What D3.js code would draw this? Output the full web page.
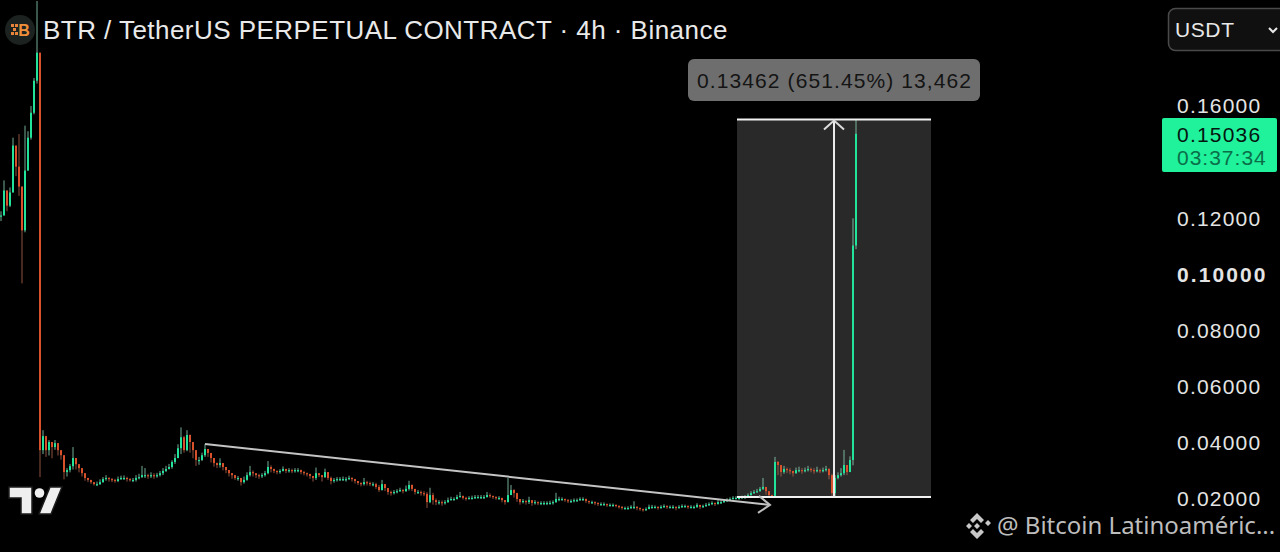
<!DOCTYPE html>
<html>
<head>
<meta charset="utf-8">
<script src="https://cdn.jsdelivr.net/npm/d3@7"></script>
<style>
  html, body { margin: 0; padding: 0; background: #000; overflow: hidden; }
  text { font-family: "Liberation Sans", Arial, sans-serif; }
</style>
</head>
<body>
<svg id="chart" width="1280" height="552"></svg>
<script>
const title = "BTR / TetherUS PERPETUAL CONTRACT · 4h · Binance";
const tickValues = [0.02, 0.04, 0.06, 0.08, 0.10, 0.12, 0.16];
const lastPrice = "0.15036";
const countdown = "03:37:34";
const measureLabel = "0.13462 (651.45%) 13,462";
const watermark = "@ Bitcoin Latinoaméric...";

// candle closes, one row = 10 candles, open is the previous close
const closes = [
  .1210,.1299,.1245,.1292,.1459,.1384,.1313,.1157,.1370,.1487,
  .1576,.1690,.1790,.0374,.0424,.0374,.0403,.0385,.0399,.0374,
  .0356,.0296,.0303,.0317,.0346,.0324,.0310,.0292,.0275,.0268,
  .0260,.0253,.0253,.0260,.0271,.0275,.0271,.0268,.0264,.0271,
  .0275,.0275,.0271,.0268,.0268,.0275,.0278,.0285,.0285,.0282,
  .0285,.0282,.0285,.0292,.0300,.0307,.0314,.0332,.0346,.0381,
  .0420,.0374,.0428,.0403,.0374,.0339,.0339,.0356,.0378,.0364,
  .0346,.0328,.0321,.0328,.0314,.0303,.0292,.0285,.0275,.0275,
  .0260,.0268,.0285,.0296,.0292,.0285,.0282,.0285,.0292,.0314,
  .0307,.0300,.0296,.0300,.0307,.0300,.0303,.0300,.0303,.0303,
  .0296,.0292,.0289,.0282,.0275,.0292,.0285,.0278,.0296,.0275,
  .0264,.0268,.0271,.0271,.0271,.0271,.0275,.0271,.0264,.0257,
  .0253,.0260,.0257,.0253,.0253,.0243,.0232,.0253,.0239,.0225,
  .0221,.0225,.0228,.0232,.0228,.0236,.0250,.0236,.0225,.0225,
  .0221,.0218,.0189,.0214,.0196,.0189,.0189,.0186,.0189,.0196,
  .0200,.0200,.0207,.0211,.0204,.0200,.0204,.0204,.0207,.0207,
  .0207,.0207,.0214,.0211,.0207,.0204,.0204,.0196,.0189,.0214,
  .0232,.0221,.0200,.0189,.0193,.0189,.0196,.0186,.0189,.0186,
  .0186,.0186,.0186,.0186,.0189,.0200,.0200,.0200,.0196,.0193,
  .0193,.0196,.0196,.0200,.0200,.0193,.0189,.0189,.0186,.0182,
  .0182,.0182,.0179,.0179,.0179,.0175,.0172,.0168,.0168,.0168,
  .0172,.0172,.0168,.0164,.0161,.0164,.0172,.0172,.0172,.0168,
  .0172,.0175,.0172,.0172,.0172,.0168,.0172,.0175,.0175,.0172,
  .0172,.0172,.0179,.0172,.0175,.0179,.0182,.0186,.0182,.0189,
  .0189,.0193,.0196,.0200,.0204,.0204,.0204,.0207,.0207,.0214,
  .0221,.0225,.0228,.0236,.0243,.0228,.0214,.0211,.0332,.0321,
  .0296,.0307,.0303,.0300,.0292,.0303,.0303,.0300,.0303,.0307,
  .0303,.0300,.0303,.0300,.0303,.0307,.0285,.0221,.0275,.0285,
  .0292,.0321,.0296,.0339,.1103,.1501
];
const highs = [
  .1225,.1335,.1299,.1310,.1487,.1459,.1500,.1313,.1530,.1510,
  .1600,.1700,.1974,.1733,.0445,.0425,.0410,.0400,.0410,.0385,
  .0365,.0335,.0310,.0325,.0385,.0332,.0320,.0300,.0280,.0275,
  .0268,.0260,.0262,.0270,.0278,.0285,.0278,.0275,.0272,.0280,
  .0283,.0284,.0279,.0275,.0275,.0285,.0290,.0318,.0310,.0290,
  .0295,.0292,.0293,.0300,.0310,.0318,.0325,.0338,.0360,.0395,
  .0455,.0425,.0445,.0430,.0385,.0350,.0350,.0365,.0395,.0375,
  .0355,.0340,.0330,.0345,.0322,.0312,.0300,.0292,.0282,.0282,
  .0268,.0280,.0295,.0318,.0302,.0292,.0290,.0292,.0300,.0335,
  .0320,.0308,.0302,.0306,.0316,.0308,.0310,.0308,.0310,.0310,
  .0305,.0300,.0294,.0290,.0282,.0312,.0292,.0284,.0308,.0296,
  .0280,.0275,.0278,.0278,.0280,.0278,.0283,.0278,.0272,.0264,
  .0260,.0275,.0265,.0262,.0260,.0258,.0250,.0268,.0252,.0235,
  .0230,.0232,.0235,.0240,.0236,.0248,.0265,.0252,.0232,.0232,
  .0230,.0228,.0225,.0240,.0222,.0202,.0196,.0195,.0196,.0205,
  .0208,.0206,.0215,.0225,.0212,.0208,.0210,.0212,.0214,.0214,
  .0214,.0214,.0225,.0220,.0212,.0210,.0210,.0204,.0196,.0276,
  .0250,.0235,.0222,.0200,.0200,.0197,.0208,.0196,.0196,.0192,
  .0192,.0192,.0192,.0194,.0195,.0222,.0208,.0206,.0202,.0200,
  .0199,.0202,.0202,.0206,.0206,.0202,.0194,.0194,.0192,.0188,
  .0188,.0188,.0184,.0184,.0184,.0181,.0178,.0175,.0173,.0174,
  .0178,.0192,.0175,.0170,.0166,.0170,.0180,.0179,.0177,.0174,
  .0178,.0181,.0178,.0177,.0178,.0174,.0178,.0181,.0180,.0178,
  .0178,.0177,.0185,.0178,.0180,.0186,.0188,.0192,.0188,.0196,
  .0196,.0200,.0203,.0206,.0210,.0210,.0208,.0212,.0214,.0220,
  .0228,.0232,.0236,.0243,.0275,.0240,.0228,.0215,.0350,.0335,
  .0310,.0318,.0312,.0310,.0300,.0312,.0315,.0310,.0312,.0318,
  .0312,.0310,.0315,.0308,.0312,.0318,.0310,.0290,.0285,.0295,
  .0310,.0375,.0320,.0352,.1200,.1550
];
const lows = [
  .1190,.1210,.1225,.1240,.1300,.1350,.1280,.0968,.1150,.1370,
  .1480,.1570,.1680,.0278,.0360,.0350,.0355,.0345,.0375,.0355,
  .0340,.0270,.0280,.0295,.0305,.0305,.0295,.0280,.0265,.0260,
  .0254,.0248,.0246,.0250,.0258,.0265,.0262,.0260,.0258,.0260,
  .0268,.0268,.0262,.0262,.0260,.0262,.0270,.0275,.0275,.0272,
  .0275,.0272,.0276,.0280,.0285,.0296,.0305,.0308,.0325,.0345,
  .0360,.0365,.0370,.0365,.0345,.0318,.0322,.0335,.0350,.0350,
  .0330,.0315,.0310,.0312,.0302,.0292,.0280,.0272,.0268,.0265,
  .0248,.0255,.0265,.0280,.0280,.0275,.0272,.0275,.0280,.0288,
  .0295,.0292,.0288,.0290,.0298,.0292,.0294,.0292,.0294,.0295,
  .0288,.0284,.0280,.0272,.0262,.0268,.0278,.0262,.0275,.0268,
  .0252,.0258,.0262,.0264,.0264,.0262,.0268,.0262,.0255,.0250,
  .0245,.0248,.0248,.0246,.0245,.0236,.0225,.0230,.0228,.0215,
  .0212,.0216,.0220,.0225,.0220,.0225,.0230,.0228,.0216,.0218,
  .0212,.0210,.0168,.0185,.0180,.0178,.0180,.0176,.0180,.0186,
  .0194,.0194,.0198,.0205,.0198,.0194,.0198,.0198,.0200,.0202,
  .0200,.0200,.0205,.0204,.0200,.0197,.0197,.0188,.0180,.0188,
  .0215,.0205,.0190,.0180,.0184,.0180,.0182,.0176,.0180,.0178,
  .0178,.0178,.0178,.0180,.0180,.0186,.0192,.0194,.0190,.0186,
  .0186,.0188,.0190,.0193,.0193,.0186,.0182,.0182,.0178,.0175,
  .0176,.0176,.0172,.0173,.0172,.0170,.0166,.0162,.0162,.0162,
  .0164,.0164,.0160,.0158,.0155,.0158,.0164,.0165,.0166,.0162,
  .0165,.0168,.0165,.0166,.0165,.0160,.0165,.0168,.0169,.0165,
  .0166,.0165,.0168,.0164,.0168,.0172,.0175,.0178,.0175,.0180,
  .0182,.0186,.0190,.0194,.0198,.0198,.0198,.0200,.0201,.0206,
  .0212,.0218,.0222,.0226,.0232,.0215,.0205,.0205,.0205,.0285,
  .0280,.0290,.0292,.0288,.0280,.0290,.0295,.0290,.0295,.0298,
  .0295,.0290,.0295,.0292,.0295,.0298,.0270,.0207,.0205,.0270,
  .0280,.0285,.0285,.0310,.0320,.1090
];

// drawings, in candle index and price
const measureIdx = [245.33, 310];
const measurePrice = [0.0207, 0.1552];
const measureArrowIdx = 277.67;
const trendIdx = [68, 256.33];
const trendPrice = [0.0396, 0.0179];

const green = "#22e39a", red = "#d9512b";

const svg = d3.select("#chart");
svg.append("rect").attr("width", 1280).attr("height", 552).attr("fill", "#000");

const x = d3.scaleLinear().domain([0, closes.length - 1]).range([1, 856]);
const y = d3.scaleLinear().domain([0.02, 0.16]).range([499, 106]);

const candles = closes.map((c, i) => {
  const o = i == 0 ? c : closes[i - 1];
  return { i: i, o: o, c: c, h: Math.max(highs[i], o, c), l: Math.min(lows[i], o, c) };
});

// measure box
svg.append("rect")
  .attr("x", x(measureIdx[0])).attr("width", x(measureIdx[1]) - x(measureIdx[0]))
  .attr("y", y(measurePrice[1])).attr("height", y(measurePrice[0]) - y(measurePrice[1]))
  .attr("fill", "#292929");

// candles
const g = svg.append("g");
g.selectAll("line.wick").data(candles).join("line").attr("class", "wick")
  .attr("x1", d => x(d.i)).attr("x2", d => x(d.i))
  .attr("y1", d => y(d.h)).attr("y2", d => y(d.l))
  .attr("stroke", d => d.c >= d.o ? "#8fd9bb" : "#b5674e")
  .attr("stroke-width", 0.8);
g.selectAll("rect.body").data(candles).join("rect").attr("class", "body")
  .attr("x", d => x(d.i) - 1).attr("width", 2)
  .attr("y", d => y(Math.max(d.o, d.c)))
  .attr("height", d => Math.max(1.2, Math.abs(y(d.o) - y(d.c))))
  .attr("fill", d => d.c >= d.o ? green : red);

// white edges and arrow of the measure box
measurePrice.forEach(p => {
  svg.append("line")
    .attr("x1", x(measureIdx[0])).attr("x2", x(measureIdx[1]))
    .attr("y1", y(p)).attr("y2", y(p))
    .attr("stroke", "#f2f2f2").attr("stroke-width", 2);
});
const ax = x(measureArrowIdx), top_ = y(measurePrice[1]);
svg.append("line")
  .attr("x1", ax).attr("x2", ax)
  .attr("y1", y(measurePrice[0])).attr("y2", top_)
  .attr("stroke", "#ececec").attr("stroke-width", 2);
svg.append("path")
  .attr("d", `M${ax - 10},${top_ + 10}L${ax},${top_ + 1}L${ax + 10},${top_ + 10}`)
  .attr("fill", "none").attr("stroke", "#dcdcdc").attr("stroke-width", 2);

// trend line with arrow
const tx = x(trendIdx[1]), ty = y(trendPrice[1]);
svg.append("line")
  .attr("x1", x(trendIdx[0])).attr("y1", y(trendPrice[0]))
  .attr("x2", tx).attr("y2", ty)
  .attr("stroke", "#c4c4c4").attr("stroke-width", 2);
svg.append("path")
  .attr("d", `M${tx - 11},${ty - 9}L${tx},${ty}L${tx - 12},${ty + 8}`)
  .attr("fill", "none").attr("stroke", "#bdbdbd").attr("stroke-width", 2);

// measure label
svg.append("rect").attr("x", 688).attr("y", 59).attr("width", 292).attr("height", 42)
  .attr("rx", 6).attr("fill", "#6e6e6e");
svg.append("text").attr("x", 697).attr("y", 88).attr("fill", "#141414")
  .attr("font-size", 21).attr("letter-spacing", 1.1).text(measureLabel);

// price axis
const axis = svg.append("g").attr("transform", "translate(1177,0)")
  .call(d3.axisRight(y).tickValues(tickValues).tickFormat(d3.format(".5f")).tickSize(0).tickPadding(0));
axis.select(".domain").remove();
axis.selectAll("text")
  .attr("fill", "#e4e4e4")
  .attr("font-size", 21)
  .attr("letter-spacing", d => d == 0.10 ? 2.1 : 1.2)
  .attr("font-weight", d => d == 0.10 ? "bold" : "normal")
  .style("font-family", '"Liberation Sans", Arial, sans-serif');

// last price tag
svg.append("rect").attr("x", 1162).attr("y", 118).attr("width", 115).attr("height", 54)
  .attr("rx", 2).attr("fill", "#1ff29b");
svg.append("text").attr("x", 1177).attr("y", 142).attr("fill", "#06150f")
  .attr("font-size", 21).attr("letter-spacing", 1.2).text(lastPrice);
svg.append("text").attr("x", 1177).attr("y", 165).attr("fill", "#0b6e49")
  .attr("font-size", 21).attr("letter-spacing", 1).text(countdown);

// currency button
svg.append("rect").attr("x", 1168.5).attr("y", 8.5).attr("width", 130).attr("height", 42)
  .attr("rx", 7).attr("fill", "#101010").attr("stroke", "#4a4a4a").attr("stroke-width", 1.5);
svg.append("text").attr("x", 1175).attr("y", 37).attr("fill", "#e8e8e8")
  .attr("font-size", 21).attr("letter-spacing", 0.6).text("USDT");
svg.append("path").attr("d", "M1269,28L1273,32L1277,28")
  .attr("fill", "none").attr("stroke", "#e8e8e8").attr("stroke-width", 2);

// title and coin icon
svg.append("text").attr("x", 43).attr("y", 39).attr("fill", "#e9e9e9")
  .attr("font-size", 26).attr("letter-spacing", 0.46).text(title);
svg.append("circle").attr("cx", 20).attr("cy", 30).attr("r", 15).attr("fill", "#1b2220");
svg.append("text").attr("x", 24).attr("y", 36).attr("text-anchor", "middle")
  .attr("fill", "#f0903a").attr("font-size", 16).attr("font-weight", "bold").text("B");
svg.append("path").attr("d", "M11,24h3v3h-3zM15,24h3v3h-3zM13,28h3v3h-3zM11,32h3v3h-3zM15,32h3v3h-3z")
  .attr("fill", "#e8843a");

// TradingView mark
svg.append("path")
  .attr("d", "M9,487H32V514H21V498H9Z M50,487H62L51,514H39Z")
  .attr("fill", "#efefef").attr("stroke", "#1c1c1c").attr("stroke-width", 1.5);
svg.append("circle").attr("cx", 39.5).attr("cy", 493).attr("r", 4.8).attr("fill", "#efefef");

// watermark
svg.append("path")
  .attr("d", "M977,513l7,7-3,3-4-4-4,4-3-3z M977,539l7-7-3-3-4,4-4-4-3,3z M966,526l3-3 3,3-3,3z M988,526l3-3-3-3-3,3 3,3z M977,523l3,3-3,3-3-3z")
  .attr("fill", "#c8c8c8");
svg.append("text").attr("x", 997).attr("y", 534).attr("fill", "#bdbdbd")
  .style("font-family", '"Noto Sans", sans-serif')
  .attr("font-size", 24).text(watermark);
</script>
</body>
</html>
